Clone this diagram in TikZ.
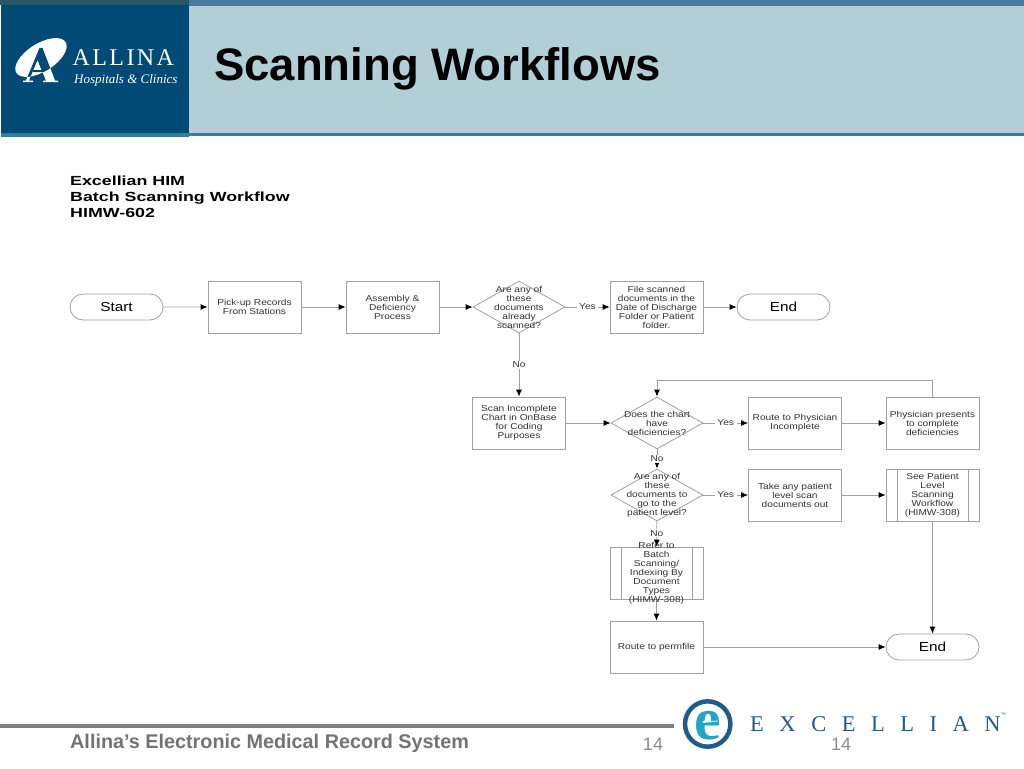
\documentclass[tikz,border=0pt]{standalone}
\usepackage{fontspec}
\setmainfont{Liberation Sans}
\newfontfamily\wide[FakeStretch=1.18]{Liberation Sans}
\newfontfamily\wider[FakeStretch=1.35]{Liberation Sans}
\newfontfamily\rmf{Liberation Serif}
\usetikzlibrary{shapes.geometric,shapes.misc,arrows.meta}
\definecolor{panel}{HTML}{004A75}
\definecolor{pale}{HTML}{B2CFD8}
\definecolor{teal}{HTML}{337F93}
\definecolor{strip}{HTML}{4A7B9D}
\definecolor{edge}{HTML}{A0A0A0}
\definecolor{exblue}{HTML}{1F5C8C}
\definecolor{excyan}{HTML}{1FA5C8}
\tikzset{
  x=1pt,y=-1pt,
  small/.style={font=\wide\fontsize{8.6}{9}\selectfont,align=center,text=black!80,inner sep=0},
  big/.style={font=\wide\fontsize{13}{14}\selectfont,align=center,text=black},
  procbox/.style={draw=edge,line width=.8,minimum width=93,minimum height=52,inner sep=0,small},
  term/.style={draw=edge,line width=.8,rounded rectangle,minimum width=93,minimum height=26,inner sep=0,big},
  dec/.style={draw=edge,line width=.8,diamond,minimum width=92,minimum height=52,inner sep=0},
  link/.style={draw=edge,line width=.8,-{Latex[black,length=7,width=6]}},
  lab/.style={small,fill=white,inner xsep=2.5,inner ysep=1,yshift=.5},
  dectxt/.style={small},
}
\begin{document}
\begin{tikzpicture}
\useasboundingbox (0,0) rectangle (1024,768);
\fill[white] (0,0) rectangle (1024,768);
% header
\fill[strip] (189,0) rectangle (1024,6);
\fill[teal!70!black] (0,0) rectangle (189,5);
\fill[pale] (189,6) rectangle (1024,133);
\fill[teal] (189,133) rectangle (1024,135.5);
\fill[panel] (1,5) rectangle (189,133);
\fill[teal] (1,133) rectangle (189,137);
% Allina mark
\def\markA{(23,82) -- (23,80.5) -- (26,80.5) -- (39.5,48) -- (42.5,48) -- (55,80.5) -- (58,80.5) -- (58,82) -- (43,82) -- (43,80.5) -- (46,80.5) -- (42.5,72) -- (33,72) -- (33,70) -- (41.5,70) -- (37.5,60) -- (29,80.5) -- (33,80.5) -- (33,82) -- cycle}
\fill[white] \markA;
\begin{scope}
  \clip[rotate around={32:(41,57.5)}] (41,57.5) ellipse [x radius=29,y radius=14];
  \fill[white] (0,30) rectangle (80,90);
  \fill[panel] \markA;
\end{scope}
\node[anchor=base west,inner sep=0,text=white,font=\rmf\fontsize{24}{24}\selectfont\addfontfeature{LetterSpace=10}] (allina) at (72.5,66) {ALLINA};
\node[anchor=base west,inner sep=0,text=white,font=\rmf\itshape\fontsize{13}{15}\selectfont] (hosp) at (74,83) {Hospitals \& Clinics};
\node[anchor=base west,inner sep=0,font=\bfseries\fontsize{45.5}{46}\selectfont] (title) at (214,81) {Scanning Workflows};
% subtitle
\node[anchor=north west,inner sep=0,align=left,font=\wider\bfseries\fontsize{13.2}{16}\selectfont] (sub) at (70,175.5) {Excellian HIM\\Batch Scanning Workflow\\HIMW-602};
% flow
\node[term] (start) at (116.5,307) {Start};
\node[procbox] (pick) at (254.5,307) {Pick-up Records\\From Stations};
\node[procbox] (asm) at (392.5,307) {Assembly \&\\Deficiency\\Process};
\node[dec] (d1) at (519,307) {};
\node[procbox] (file) at (656.5,307) {File scanned\\documents in the\\Date of Discharge\\Folder or Patient\\folder.};
\node[term] (end1) at (783.5,307) {End};
\node[procbox] (scan) at (519,423) {Scan Incomplete\\Chart in OnBase\\for Coding\\Purposes};
\node[dec] (d2) at (657,423) {};
\node[procbox] (route) at (795,423) {Route to Physician\\Incomplete};
\node[procbox] (phys) at (932.5,423) {Physician presents\\to complete\\deficiencies};
\node[dec] (d3) at (657,495) {};
\node[procbox] (take) at (795,495) {Take any patient\\level scan\\documents out};
\node[procbox] (see) at (932.5,495) {};
\node[procbox] (refer) at (656.5,573) {};
\node[procbox] (perm) at (656.5,647) {Route to permfile};
\node[term] (end2) at (932.5,647) {End};
\draw[edge,line width=.8] ([xshift=11.5]see.north west) -- ([xshift=11.5]see.south west) ([xshift=-11.5]see.north east) -- ([xshift=-11.5]see.south east);
\draw[edge,line width=.8] ([xshift=11.5]refer.north west) -- ([xshift=11.5]refer.south west) ([xshift=-11.5]refer.north east) -- ([xshift=-11.5]refer.south east);
% connectors
\draw[link] (start) -- (pick);
\draw[link] (pick) -- (asm);
\draw[link] (asm) -- (d1);
\draw[link] (d1) -- node[lab] (ly1) {Yes} (file);
\draw[link] (file) -- (end1);
\draw[link] (d1) -- node[lab] (ln1) {No} (scan);
\draw[link] (scan) -- (d2);
\draw[link] (d2) -- node[lab] (ly2) {Yes} (route);
\draw[link] (route) -- (phys);
\draw[link] (phys.north) |- (657,380) -- (d2.north);
\draw[link] (d2) -- node[lab] (ln2) {No} (d3);
\draw[link] (d3) -- node[lab] (ly3) {Yes} (take);
\draw[link] (take) -- (see);
\draw[link] (d3) -- node[lab] (ln3) {No} (refer);
\draw[link] (refer) -- (perm);
\draw[link] (see) -- (end2);
\draw[link] (perm) -- (end2);
% texts that overrun their shapes, on top of the lines
\node[dectxt] (t1) at (519,307) {Are any of\\these\\documents\\already\\scanned?};
\node[dectxt] (t2) at (657,423) {Does the chart\\have\\deficiencies?};
\node[dectxt] (t3) at (657,495) {Are any of\\these\\documents to\\go to the\\patient level?};
\node[dectxt] (t4) at (932.5,495) {See Patient\\Level\\Scanning\\Workflow\\(HIMW-308)};
\node[dectxt] (t5) at (656.5,573) {Refer to\\Batch\\Scanning/\\Indexing By\\Document\\Types\\(HIMW-308)};
% footer
\fill[black!50] (0,724) rectangle (674,727.5);
\node[anchor=base west,inner sep=0,text=black!55,font=\bfseries\fontsize{19.8}{20}\selectfont] (foot) at (70,748.5) {Allina’s Electronic Medical Record System};
\node[anchor=base,inner sep=0,text=black!45,font=\fontsize{18}{18}\selectfont] (p1) at (653,750) {14};
% Excellian mark
\draw[exblue,line width=4.5] (707.7,724) circle (22.7);
\node[inner sep=0,text=excyan,font=\rmf\bfseries\fontsize{60}{60}\selectfont] (e) at (708,726) {e};
\draw[white,line width=.8,-{Latex[length=3,width=3]}] (718,721) -- (702,722);
\node[anchor=base west,inner sep=0,text=exblue,font=\rmf\fontsize{22.5}{23}\selectfont\addfontfeature{LetterSpace=69}] (exc) at (750,731) {EXCELLIAN};
\node[anchor=base west,inner sep=0,text=exblue,font=\fontsize{5}{5}\selectfont] (tm) at (1001,716) {™};
\node[anchor=base,inner sep=0,text=black!45,font=\fontsize{18}{18}\selectfont] (p2) at (841,750) {14};
\end{tikzpicture}
\end{document}
